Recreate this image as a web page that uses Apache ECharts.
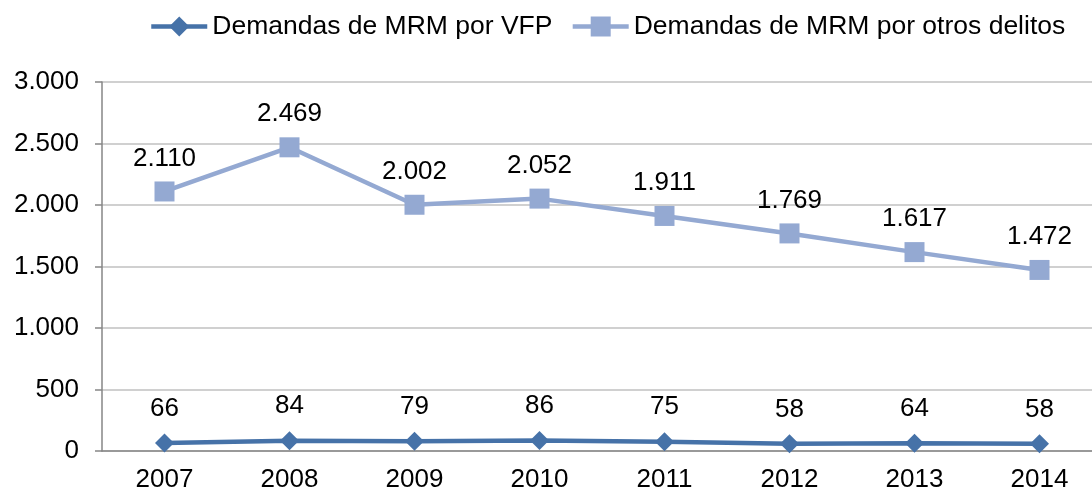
<!DOCTYPE html>
<html>
<head>
<meta charset="utf-8">
<title>Demandas de MRM</title>
<script src="https://cdn.jsdelivr.net/npm/echarts@6.0.0/dist/echarts.min.js"></script>
<style>
  html, body { margin: 0; padding: 0; background: #fff; overflow: hidden; }
  /* the plot runs a little past the right edge of the picture, as in the original */
  #main { width: 1102px; height: 494px; }
</style>
</head>
<body>
<div id="main"></div>
<script>
var years = ['2007', '2008', '2009', '2010', '2011', '2012', '2013', '2014'];
var vfp = [66, 84, 79, 86, 75, 58, 64, 58];
var otros = [2110, 2469, 2002, 2052, 1911, 1769, 1617, 1472];
var yTicks = [0, 500, 1000, 1500, 2000, 2500, 3000];

// thousands with a dot, as in the original
function fmt(v) {
  return String(v).replace(/\B(?=(\d{3})+(?!\d))/g, '.');
}

var font = 'Liberation Sans, Arial, sans-serif';
var fs = 26;
var myChart = echarts.init(document.getElementById('main'));
var option = {
  animation: false,
  textStyle: {fontFamily: font},
  legend: {
    top: 8,
    left: 144,
    itemWidth: 56,
    itemHeight: 25,
    itemGap: 18,
    lineStyle: {width: 4.5},
    textStyle: {fontSize: 26.5, color: '#000', fontFamily: font},
    data: ['Demandas de MRM por VFP', 'Demandas de MRM por otros delitos']
  },
  grid: {left: 102, top: 82, right: 0, height: 369},
  xAxis: {
    type: 'category',
    data: years,
    boundaryGap: true,
    axisLine: {lineStyle: {color: '#868686', width: 1.5}},
    axisTick: {length: 7, lineStyle: {color: '#868686', width: 1.5}},
    axisLabel: {fontSize: fs, color: '#000', margin: 16, fontFamily: font}
  },
  yAxis: {
    type: 'value',
    min: yTicks[0],
    max: yTicks[yTicks.length - 1],
    interval: 500,
    axisLine: {show: true, lineStyle: {color: '#868686', width: 1.5}},
    axisTick: {show: true, length: 7, lineStyle: {color: '#868686', width: 1.5}},
    splitLine: {lineStyle: {color: '#c0c0c0', width: 1.5}},
    axisLabel: {fontSize: fs, color: '#000', margin: 23, fontFamily: font, formatter: fmt}
  },
  series: [
    {
      name: 'Demandas de MRM por VFP',
      type: 'line',
      data: vfp,
      symbol: 'diamond',
      symbolSize: 19,
      itemStyle: {color: '#4672a8'},
      lineStyle: {width: 4.5, color: '#4672a8'},
      label: {show: true, position: 'top', distance: 12, fontSize: fs, color: '#000',
        fontFamily: font, formatter: function (p) { return fmt(p.value); }}
    },
    {
      name: 'Demandas de MRM por otros delitos',
      type: 'line',
      data: otros,
      symbol: 'rect',
      symbolSize: 20,
      itemStyle: {color: '#94a9d2'},
      lineStyle: {width: 4.5, color: '#94a9d2'},
      label: {show: true, position: 'top', distance: 10, fontSize: fs, color: '#000',
        fontFamily: font, formatter: function (p) { return fmt(p.value); }}
    }
  ]
};
myChart.setOption(option);
</script>
</body>
</html>
